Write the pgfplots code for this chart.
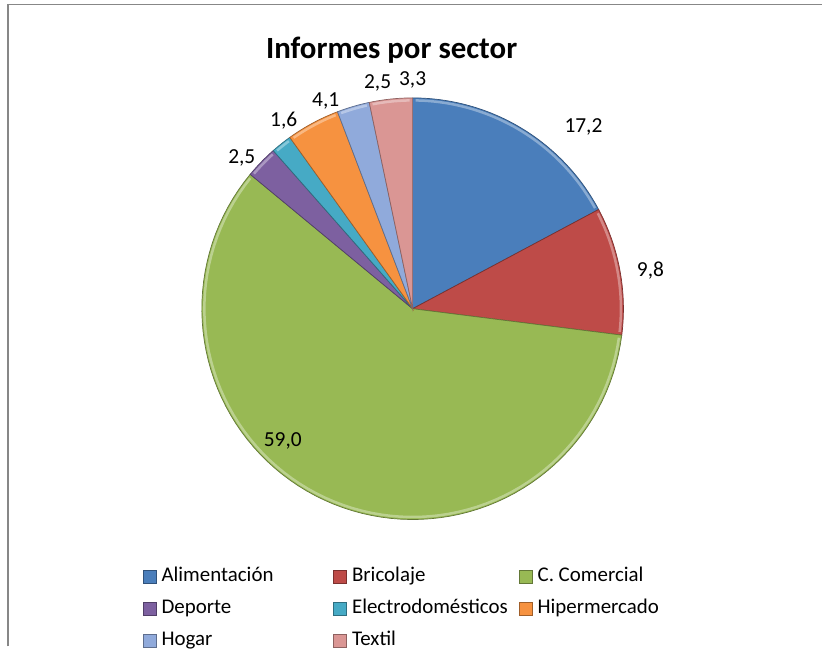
\documentclass[border=0pt]{standalone}
\usepackage{pgfplots}
\pgfplotsset{compat=1.18}
\usepackage{fontspec}
\setmainfont{Carlito}
\definecolor{cAli}{HTML}{4A7EBB}
\definecolor{cBri}{HTML}{BE4B48}
\definecolor{cCom}{HTML}{98B954}
\definecolor{cDep}{HTML}{7D60A0}
\definecolor{cEle}{HTML}{46AAC5}
\definecolor{cHip}{HTML}{F69240}
\definecolor{cHog}{HTML}{90AADB}
\definecolor{cTex}{HTML}{DA9694}
\definecolor{frame}{HTML}{878787}
% pie centre and radius in pixel units
\def\cx{413}\def\cy{338}\def\rr{211}
\newcommand{\slice}[3]{% #1 cumulative start (%), #2 value (%), #3 colour
  \pgfmathsetmacro\angA{90-3.6*#1}%
  \pgfmathsetmacro\angB{90-3.6*(#1+#2)}%
  \edef\tmp{\noexpand\addplot[fill=#3, draw=#3!65!black, line width=0.7bp, domain=\angB:\angA, samples=80]
    ({\cx+\rr*cos(x)},{\cy+\rr*sin(x)}) -- (axis cs:\cx,\cy) -- cycle;}%
  \tmp
  \edef\tmp{\noexpand\addplot[forget plot, draw=white, draw opacity=0.35, line width=2.5bp, domain=\angB+0.8:\angA-0.8, samples=80]
    ({\cx+(\rr-2.5)*cos(x)},{\cy+(\rr-2.5)*sin(x)});}%
  \tmp}
\begin{document}
\begin{tikzpicture}
\begin{axis}[
  width=823bp, height=647bp, scale only axis,
  xmin=0, xmax=823, ymin=0, ymax=647,
  hide axis, clip=false,
  legend columns=3, legend cell align=left,
  legend image code/.code={\fill[#1] (0bp,-6.5bp) rectangle (13bp,6.5bp);
     \draw[#1, line width=0.5bp] (0bp,-6.5bp) rectangle (13bp,6.5bp);},
  legend style={draw=none, fill=none, at={(axis cs:143,80)}, anchor=north west,
    inner sep=0pt, outer sep=0pt, font=\fontsize{21}{25}\selectfont,
    column sep=5bp, row sep=12bp,
    nodes={inner sep=0pt, text height=15bp, text depth=5bp}},
]
\path (axis cs:0,0) rectangle (axis cs:823,647);
\slice{0}{17.2}{cAli}
\addlegendentry{\makebox[167bp][l]{Alimentación}}
\slice{17.2}{9.8}{cBri}
\addlegendentry{\makebox[162bp][l]{Bricolaje}}
\slice{27.0}{59.0}{cCom}
\addlegendentry{C. Comercial}
\slice{86.0}{2.5}{cDep}
\addlegendentry{Deporte}
\slice{88.5}{1.6}{cEle}
\addlegendentry{Electrodomésticos}
\slice{90.1}{4.1}{cHip}
\addlegendentry{Hipermercado}
\slice{94.2}{2.5}{cHog}
\addlegendentry{Hogar}
\slice{96.7}{3.3}{cTex}
\addlegendentry{Textil}
% frame
\draw[frame, line width=1.5bp] (axis cs:8,0) -- (axis cs:8,642.5) -- (axis cs:823,642.5);
% title
\node[font=\fontsize{31}{36}\selectfont\bfseries] at (axis cs:392,597) {Informes por sector};
% data labels
\begin{scope}[every node/.style={font=\fontsize{21.5}{25}\selectfont}]
\node at (axis cs:584,520) {17,2};
\node at (axis cs:651,376) {9,8};
\node at (axis cs:283,206) {59,0};
\node at (axis cs:242,489) {2,5};
\node at (axis cs:284,526) {1,6};
\node at (axis cs:326,546) {4,1};
\node at (axis cs:378,564) {2,5};
\node at (axis cs:413,567) {3,3};
\end{scope}
\end{axis}
\end{tikzpicture}
\end{document}
